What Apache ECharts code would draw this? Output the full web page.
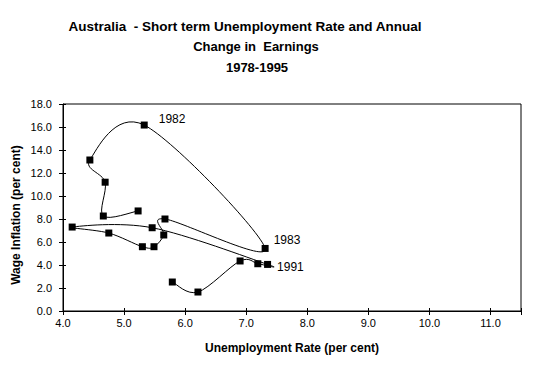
<!DOCTYPE html>
<html>
<head>
<meta charset="utf-8">
<script src="https://cdn.jsdelivr.net/npm/echarts@6/dist/echarts.min.js"></script>
<style>
  html, body { margin: 0; padding: 0; background: #fff; }
  #chart { width: 546px; height: 367px; }
</style>
</head>
<body>
<div id="chart"></div>
<script>
// Years in chronological order
const years = [1978, 1979, 1980, 1981, 1982, 1983, 1984, 1985, 1986, 1987, 1988, 1989, 1990, 1991, 1992, 1993, 1994, 1995];
// Short term unemployment rate (per cent)
const unemployment = [5.23, 4.66, 4.69, 4.44, 5.33, 7.31, 5.67, 5.65, 5.49, 5.30, 4.75, 4.15, 5.46, 7.35, 7.19, 6.90, 6.21, 5.79];
// Annual change in earnings (per cent)
const wageInflation = [8.70, 8.26, 11.20, 13.13, 16.17, 5.44, 8.00, 6.61, 5.59, 5.59, 6.78, 7.30, 7.24, 4.05, 4.11, 4.35, 1.65, 2.52];
// Years that carry a label on the chart
const labelledYears = [1982, 1983, 1991];
const labelOffsets = { 1982: [6, -6], 1983: [0, -8], 1991: [1, 3] };

const titleLines = ['Australia\u00a0\u00a0- Short term Unemployment Rate and Annual', 'Change in\u00a0\u00a0Earnings', '1978-1995'];
const xTitle = 'Unemployment Rate (per cent)';
const yTitle = 'Wage Inflation (per cent)';

const font = "'Liberation Sans', Arial, sans-serif";

const points = years.map(function (y, i) { return [unemployment[i], wageInflation[i]]; });

const markerData = years.map(function (y, i) {
  const item = { value: points[i] };
  if (labelledYears.indexOf(y) >= 0) {
    item.label = {
      show: true,
      formatter: String(y),
      position: 'right',
      offset: labelOffsets[y],
      color: '#000',
      opacity: 1,
      fontFamily: font,
      fontSize: 12
    };
  }
  return item;
});

// one item per segment (from point i to point i+1)
const segmentData = points.slice(0, -1);

// Smoothed connecting curve (Catmull-Rom style, computed in pixel space through the axes)
function renderSegment(params, api) {
  const i = params.dataIndex;
  const n = points.length;
  const p0 = api.coord(points[Math.max(i - 1, 0)]);
  const p1 = api.coord(points[i]);
  const p2 = api.coord(points[i + 1]);
  const p3 = api.coord(points[Math.min(i + 2, n - 1)]);
  const k = 1 / 6;
  return {
    type: 'bezierCurve',
    shape: {
      x1: p1[0], y1: p1[1],
      x2: p2[0], y2: p2[1],
      cpx1: p1[0] + (p2[0] - p0[0]) * k,
      cpy1: p1[1] + (p2[1] - p0[1]) * k,
      cpx2: p2[0] - (p3[0] - p1[0]) * k,
      cpy2: p2[1] - (p3[1] - p1[1]) * k
    },
    style: { stroke: '#000', fill: null, lineWidth: 1 },
    silent: true
  };
}

const chart = echarts.init(document.getElementById('chart'), null, { renderer: 'svg' });

const axisCommon = {
  axisLine: { show: true, lineStyle: { color: '#000', width: 1 } },
  splitLine: { show: false }
};
const titleStyle = { fontFamily: font, fontSize: 13, fontWeight: 'bold', color: '#000' };

chart.setOption({
  animation: false,
  backgroundColor: '#fff',
  title: [
    { text: titleLines[0], left: 245, top: 19, padding: 0, textAlign: 'center',
      textStyle: Object.assign({}, titleStyle, { fontSize: 13.5 }) },
    { text: titleLines[1], left: 256, top: 40, padding: 0, textAlign: 'center', textStyle: titleStyle },
    { text: titleLines[2], left: 257, top: 61, padding: 0, textAlign: 'center', textStyle: titleStyle }
  ],
  grid: {
    left: 63, right: 25, top: 104, bottom: 56,
    show: true, borderColor: '#000', borderWidth: 1, backgroundColor: 'transparent'
  },
  xAxis: [
    Object.assign({}, axisCommon, {
      type: 'value', min: 4, max: 11.5, interval: 1, position: 'bottom',
      name: xTitle, nameLocation: 'middle', nameGap: 31,
      nameTextStyle: { fontFamily: font, fontSize: 12, fontWeight: 'bold', color: '#000' },
      axisTick: { show: true, length: 4, inside: false, lineStyle: { color: '#000' } },
      axisLabel: {
        show: true, margin: 6, color: '#000', fontFamily: font, fontSize: 11,
        formatter: function (v) { return v > 11.2 ? '' : v.toFixed(1); }
      }
    }),
    Object.assign({}, axisCommon, {
      type: 'value', min: 4, max: 11.5, interval: 1, position: 'bottom',
      axisLine: { show: false },
      axisTick: { show: true, length: 3, inside: true, lineStyle: { color: '#000' } },
      axisLabel: { show: false }
    })
  ],
  yAxis: [
    Object.assign({}, axisCommon, {
      type: 'value', min: 0, max: 18, interval: 2, position: 'left',
      axisTick: { show: true, length: 4, inside: false, lineStyle: { color: '#000' } },
      axisLabel: {
        show: true, margin: 11, color: '#000', fontFamily: font, fontSize: 11,
        formatter: function (v) { return v.toFixed(1); }
      }
    }),
    Object.assign({}, axisCommon, {
      type: 'value', min: 0, max: 18, interval: 2, position: 'left',
      axisLine: { show: false },
      axisTick: { show: true, length: 3, inside: true, lineStyle: { color: '#000' } },
      axisLabel: { show: false }
    })
  ],
  graphic: [
    {
      type: 'text', x: 16, y: 215, rotation: Math.PI / 2,
      style: { text: yTitle, fill: '#000', font: 'bold 12px ' + font, textAlign: 'center', textVerticalAlign: 'middle' }
    }
  ],
  series: [
    {
      type: 'custom',
      xAxisIndex: 0, yAxisIndex: 0,
      data: segmentData,
      renderItem: renderSegment,
      clip: false,
      z: 1
    },
    {
      type: 'scatter',
      xAxisIndex: 0, yAxisIndex: 0,
      data: markerData,
      symbol: 'rect',
      symbolSize: 7,
      itemStyle: { color: '#000', opacity: 1 },
      emphasis: { disabled: true },
      clip: false,
      z: 2
    }
  ]
});
</script>
</body>
</html>
